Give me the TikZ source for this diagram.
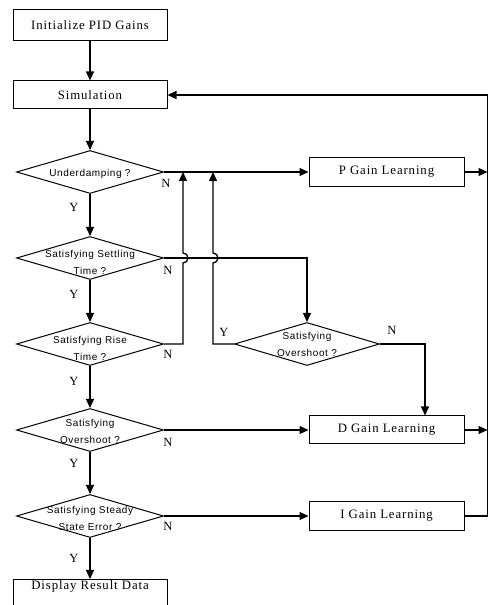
\documentclass[tikz,border=0pt]{standalone}
\usepackage{fontspec}
\setmainfont{Liberation Serif}
\newfontfamily\boxfont[LetterSpace=7]{Liberation Serif}
\newfontfamily\decfont[LetterSpace=6]{Liberation Sans}
\usetikzlibrary{arrows.meta, positioning, shapes.geometric}
\newcommand{\dectext}[2][-5pt]{\makebox[0pt]{\raisebox{#1}[0pt][0pt]{\renewcommand{\arraystretch}{1.45}\begin{tabular}{@{}c@{}}#2\end{tabular}}}}
\tikzset{
  procbox/.style={draw, line width=1pt, minimum width=154pt, minimum height=29pt, inner sep=0pt, font=\boxfont\fontsize{12.8}{15}\selectfont},
  decbox/.style={draw, diamond, line width=1pt, minimum width=147pt, minimum height=43pt, inner sep=0pt, aspect=3.4, font=\decfont\fontsize{10}{11.5}\selectfont},
  flow/.style={line width=1.3pt, -{Triangle[length=9pt,width=8pt]}},
  yn/.style={font=\fontsize{12.5}{14}\selectfont, inner sep=0pt}
}

\begin{document}
\begin{tikzpicture}[x=1pt, y=1pt]
  \useasboundingbox (0,0) rectangle (489,605);
  \node[procbox, minimum height=31pt] (init) at (90,579.5) {Initialize PID Gains};
  \node[procbox, minimum height=28pt] (sim) at (90,510) {Simulation};
  \node[decbox] (under) at (90,433) {\dectext[-3.5pt]{Underdamping ?}};
  \node[decbox] (settle) at (90,347) {\dectext[-7pt]{Satisfying Settling\\Time ?}};
  \node[decbox] (rise) at (90,261) {\dectext[-7pt]{Satisfying Rise\\Time ?}};
  \node[decbox] (over) at (90,175) {\dectext[-4pt]{Satisfying\\Overshoot ?}};
  \node[decbox] (steady) at (90,89) {\dectext[-5pt]{Satisfying Steady\\State Error ?}};
  \node[procbox, anchor=north, minimum height=34pt, text height=4pt, text depth=18pt] (disp) at (90,26) {Display Result Data};

  \node[procbox, minimum width=155pt] (pgain) at (386.5,433) {P Gain Learning};
  \node[decbox, minimum width=145pt] (over2) at (307,261) {\dectext[-3pt]{Satisfying\\Overshoot ?}};
  \node[procbox, minimum width=155pt, minimum height=28pt] (dgain) at (386.5,175) {D Gain Learning};
  \node[procbox, minimum width=155pt] (igain) at (386.5,89) {I Gain Learning};

  \coordinate (hopA) at (183,433);
  \coordinate (hopB) at (213,433);
  \coordinate (rtop) at (487.5,510);

  \draw[flow] (init) -- (sim);
  \draw[flow] (sim) -- (under);
  \draw[flow] (under) -- (settle);
  \draw[flow] (settle) -- (rise);
  \draw[flow] (rise) -- (over);
  \draw[flow] (over) -- (steady);
  \draw[flow] (steady) -- (disp);

  \draw[flow] (under.east) -- (pgain.west);
  \draw[flow] (over.east) -- (dgain.west);
  \draw[flow] (steady.east) -- (igain.west);
  \draw[flow] (settle.east) -| (over2.north);
  \draw[flow] (rise.east) -| ([yshift=-5pt]hopA |- settle.east) arc[start angle=-90, end angle=90, radius=5pt] -- (hopA);
  \draw[flow] (over2.west) -| ([yshift=-5pt]hopB |- settle.east) arc[start angle=-90, end angle=90, radius=5pt] -- (hopB);
  \draw[flow] (over2.east) -| ([xshift=38.5pt]dgain.north);

  \draw[flow] (pgain.east) -- (pgain.east -| rtop);
  \draw[flow] (dgain.east) -- (dgain.east -| rtop);
  \draw[flow] (igain.east) -| (rtop) -- (sim.east);

  \node[yn] (y1) at (74,398) {Y};
  \node[yn] (y2) at (74,311) {Y};
  \node[yn] (y3) at (74,224) {Y};
  \node[yn] (y4) at (74,142) {Y};
  \node[yn] (y5) at (74,47) {Y};
  \node[yn] (n1) at (166,422) {N};
  \node[yn] (n2) at (168,335) {N};
  \node[yn] (n3) at (168,251) {N};
  \node[yn] (n4) at (168,163) {N};
  \node[yn] (n5) at (168,79) {N};
  \node[yn] (y6) at (224,273) {Y};
  \node[yn] (n6) at (392,275) {N};
\end{tikzpicture}
\end{document}
